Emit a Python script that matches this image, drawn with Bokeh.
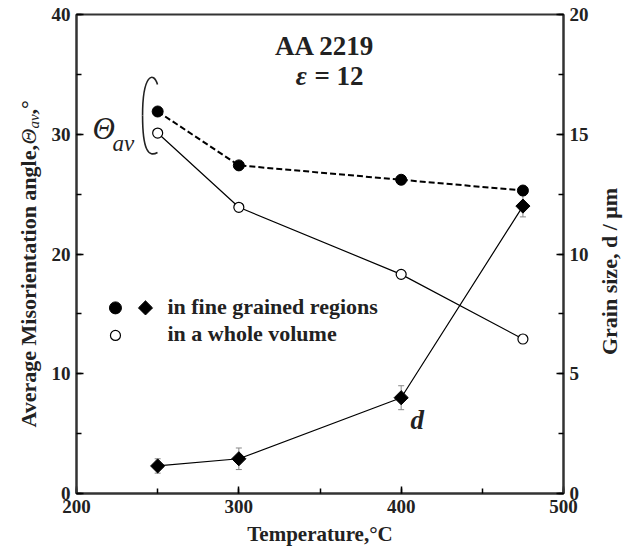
import math
from bokeh.plotting import figure
from bokeh.layouts import row
from bokeh.models import (Range1d, LinearAxis, SingleIntervalTicker, Label,
                          Whisker, TeeHead, ColumnDataSource)
from bokeh.embed import file_html
from bokeh.resources import INLINE

# ---------------- data ----------------
temperature = [250, 300, 400, 475]
theta_fine = [31.9, 27.4, 26.2, 25.3]
theta_whole = [30.1, 23.9, 18.3, 12.9]
grain_size = [1.15, 1.45, 4.0, 12.0]
grain_err = [0.3, 0.45, 0.5, 0.45]

legend_labels = ["in fine grained regions", "in a whole volume"]
title_text = "AA 2219"
strain_text = "= 12"
x_label = "Temperature,\u00b0C"
y_label_parts = ["Average Misorientation angle, ", "\u0398", "av", ",\u00b0"]
y2_label = "Grain size, d / \u03bcm"

SERIF = "Liberation Serif"
INK = "#222222"
W, H = 626, 549
TOP, BOTTOM = 14, 56
LEFT_W = 46
MAIN_W = 30 + 487 + 33
RIGHT_W = W - LEFT_W - MAIN_W

src = ColumnDataSource(dict(
    t=temperature, fine=theta_fine, whole=theta_whole, d=grain_size,
    lo=[g - e for g, e in zip(grain_size, grain_err)],
    hi=[g + e for g, e in zip(grain_size, grain_err)],
))

p = figure(width=MAIN_W, height=H, x_range=Range1d(200, 500),
           y_range=Range1d(0, 40), output_backend="svg", toolbar_location=None,
           min_border_left=30, min_border_right=33,
           min_border_top=TOP, min_border_bottom=BOTTOM)
p.extra_y_ranges = {"d": Range1d(0, 20)}
p.grid.visible = False
p.outline_line_color = "#333333"
p.outline_line_width = 2

p.xaxis.ticker = SingleIntervalTicker(interval=100, num_minor_ticks=2)
p.yaxis.ticker = SingleIntervalTicker(interval=10, num_minor_ticks=2)
raxis = LinearAxis(y_range_name="d", ticker=SingleIntervalTicker(interval=5, num_minor_ticks=2))
p.add_layout(raxis, "right")

p.xaxis.axis_label = x_label

for ax in [p.xaxis[0], p.yaxis[0], raxis]:
    ax.major_label_text_font = SERIF
    ax.major_label_text_font_style = "bold"
    ax.major_label_text_font_size = "19px"
    ax.major_label_text_color = INK
    ax.axis_label_text_font = SERIF
    ax.axis_label_text_font_style = "bold"
    ax.axis_label_text_font_size = "21px"
    ax.axis_label_text_color = INK
    ax.axis_line_width = 2
    ax.axis_line_color = "#333333"
    ax.major_tick_in = 7
    ax.major_tick_out = 0
    ax.minor_tick_in = 5
    ax.minor_tick_out = 0
    ax.major_tick_line_width = 1.5
    ax.minor_tick_line_width = 1.5
    ax.major_label_standoff = 6
    ax.axis_label_standoff = 6

# ---------------- series ----------------
p.line("t", "fine", source=src, line_color="black", line_width=2, line_dash="6 3")
p.line("t", "whole", source=src, line_color="black", line_width=1.2)
p.line("t", "d", source=src, y_range_name="d", line_color="black", line_width=1.2)

p.add_layout(Whisker(base="t", lower="lo", upper="hi", source=src, y_range_name="d",
                     line_color="#888888", line_width=1,
                     upper_head=TeeHead(size=6, line_color="#888888"),
                     lower_head=TeeHead(size=6, line_color="#888888")))

p.scatter("t", "fine", source=src, marker="circle", size=11,
          fill_color="black", line_color="black")
p.scatter("t", "whole", source=src, marker="circle", size=10,
          fill_color="white", line_color="black", line_width=1.2)
p.scatter("t", "d", source=src, y_range_name="d", marker="square", angle=math.pi / 4,
          size=10, fill_color="black", line_color="black")

# ---------------- legend (manual) ----------------
p.scatter([224], [15.5], marker="circle", size=12, fill_color="black", line_color="black")
p.scatter([242.5], [15.5], marker="square", angle=math.pi / 4, size=10,
          fill_color="black", line_color="black")
p.scatter([224], [13.2], marker="circle", size=10, fill_color="white",
          line_color="black", line_width=1.2)
for txt, yy in zip(legend_labels, [15.6, 13.35]):
    p.add_layout(Label(x=256, y=yy, text=txt, text_font=SERIF, text_font_style="bold",
                       text_font_size="22px", text_baseline="middle", text_align="left",
                       text_color=INK))

# ---------------- annotations ----------------
def note(x, y, text, style, size, align="left"):
    p.add_layout(Label(x=x, y=y, text=text, text_font=SERIF, text_font_style=style,
                       text_font_size=size, text_align=align,
                       text_baseline="alphabetic", text_color=INK))

note(353, 37.4, title_text, "bold", "27px", "center")
note(335, 34.9, "\u03b5", "bold italic", "27px")
note(346.6, 34.9, strain_text, "bold", "27px")
note(209.9, 30.5, "\u0398", "italic", "31px")
note(222.2, 29.2, "av", "italic", "23px")
note(405.8, 6.1, "d", "bold italic", "27px")

# bracket around the Theta_av points
p.bezier(x0=[249.9, 240.7], y0=[34.15, 31.57], x1=[240.7, 249.9], y1=[31.57, 28.48],
         cx0=[247.4, 240.7], cy0=[35.32, 28.64], cx1=[240.7, 244.4], cy1=[34.99, 28.06],
         line_color=INK, line_width=1.6)

# ---------------- side strips holding rotated axis titles ----------------
# The row aligns the strips' frames with the main frame (TOP..H-BOTTOM), so the
# strip y range is expressed in page pixels measured from the bottom.
ang = math.pi / 2

def strip(width):
    f = figure(width=width, height=H, x_range=Range1d(0, width),
               y_range=Range1d(BOTTOM, H - TOP),
               output_backend="svg", toolbar_location=None, min_border=0,
               min_border_top=TOP, min_border_bottom=BOTTOM,
               x_axis_location=None, y_axis_location=None)
    f.grid.visible = False
    f.outline_line_color = None
    return f

def vlabel(f, x, y, text, style, size, align="left"):
    f.add_layout(Label(x=x, y=y, text=text, angle=ang, text_font=SERIF,
                       text_font_style=style, text_font_size=size,
                       text_align=align, text_baseline="middle", text_color=INK))

left = strip(LEFT_W)
vlabel(left, 28, 122, y_label_parts[0], "bold", "22px")
vlabel(left, 28, 405, y_label_parts[1], "italic", "22px")
vlabel(left, 33, 421, y_label_parts[2], "italic", "15px")
vlabel(left, 28, 435, y_label_parts[3], "bold", "22px")

right = strip(RIGHT_W)
vlabel(right, 13, 278, y2_label, "bold", "22px", "center")

layout = row(left, p, right)
open("out.html", "w").write(file_html(layout, INLINE))
